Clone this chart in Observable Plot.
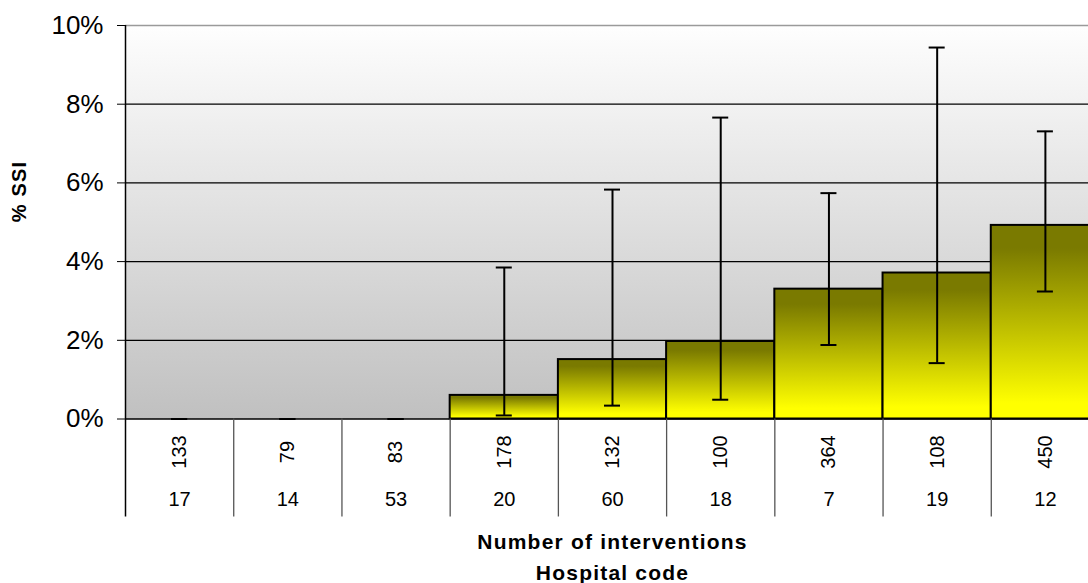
<!DOCTYPE html>
<html>
<head>
<meta charset="utf-8">
<script src="https://cdn.jsdelivr.net/npm/d3@7"></script>
<script src="https://cdn.jsdelivr.net/npm/@observablehq/plot@0.6"></script>
<style>
  html, body { margin: 0; padding: 0; background: white; overflow: hidden; }
  #chart { width: 1102px; }
  #chart svg { display: block; overflow: hidden; max-width: none !important; width: 1102px !important; height: 583px !important; }
</style>
</head>
<body>
<div id="chart"></div>
<script>
// Data
const interventions = [133, 79, 83, 178, 132, 100, 364, 108, 450];
const hospitalCodes = [17, 14, 53, 20, 60, 18, 7, 19, 12];
const ssiPct = [0, 0, 0, 0.60, 1.51, 1.97, 3.30, 3.71, 4.92];
const ciLow = [0, 0, 0, 0.09, 0.34, 0.49, 1.88, 1.42, 3.24];
const ciHigh = [0, 0, 0, 3.85, 5.83, 7.66, 5.74, 9.44, 7.31];
const yTicks = [0, 2, 4, 6, 8, 10];
const gridValues = [2, 4, 6, 8];
const yTitle = "% SSI";
const xTitles = ["Number of interventions", "Hospital code"];

const rows = interventions.map((n, i) => ({
  i, n, code: hospitalCodes[i], v: ssiPct[i], lo: ciLow[i], hi: ciHigh[i]
}));
const dividers = d3.range(0, rows.length + 1);

const tableBottom = -2.49; // y-scale units below zero where the table ends
const capHalf = 0.074;     // half-width of error caps in x units

const font = "'Liberation Sans', Arial, sans-serif";

const chart = Plot.plot({
  width: 1102,
  height: 583,
  marginLeft: 125,
  marginRight: 3,
  marginTop: 25,
  marginBottom: 164.5,
  style: { fontFamily: font, fontSize: "26px", background: "white", color: "black" },
  x: { domain: [0, rows.length], axis: null },
  y: {
    domain: [0, 10],
    ticks: yTicks,
    tickFormat: d => d + "%",
    tickSize: 8,
    tickPadding: 14,
    label: null
  },
  marks: [
    Plot.frame({ fill: "url(#bgGrad)", stroke: "none" }),
    Plot.ruleY(gridValues, { stroke: "black", strokeWidth: 1.2 }),
    Plot.ruleY([10], { stroke: "#9a9a9a", strokeWidth: 1.5 }),
    Plot.rect(rows.filter(d => d.v > 0), {
      x1: d => d.i, x2: d => d.i + 1, y1: 0, y2: d => d.v,
      fill: "url(#barGrad)", stroke: "black", strokeWidth: 2
    }),
    Plot.ruleY([0], { stroke: "black", strokeWidth: 1.5 }),
    // error bars
    Plot.ruleX(rows.filter(d => d.hi > d.lo), {
      x: d => d.i + 0.5, y1: "lo", y2: "hi", stroke: "black", strokeWidth: 2
    }),
    Plot.ruleY(rows, {
      y: "hi", x1: d => d.i + 0.5 - capHalf, x2: d => d.i + 0.5 + capHalf,
      stroke: "black", strokeWidth: 2
    }),
    Plot.ruleY(rows, {
      y: "lo", x1: d => d.i + 0.5 - capHalf, x2: d => d.i + 0.5 + capHalf,
      stroke: "black", strokeWidth: 2
    }),
    // left axis line
    Plot.ruleX([0], { y1: tableBottom, y2: 10, stroke: "black", strokeWidth: 1.5 }),
    // table dividers
    Plot.ruleX(dividers.slice(1), { y1: 0, y2: tableBottom, stroke: "#555", strokeWidth: 1.3 }),
    // table labels
    Plot.text(rows, {
      x: d => d.i + 0.5, y: 0, text: d => String(d.n),
      rotate: -90, dy: 33, fontSize: 20, fill: "black"
    }),
    Plot.text(rows, {
      x: d => d.i + 0.5, y: 0, text: d => String(d.code),
      dy: 81, fontSize: 20, fill: "black"
    }),
    // axis titles
    Plot.text([yTitle], {
      frameAnchor: "left", dx: -106, rotate: -90, fontSize: 20,
      fontWeight: "bold", fill: "black"
    }),
    Plot.text([xTitles[0]], {
      frameAnchor: "bottom", dy: 130, fontSize: 21, fontWeight: "bold", fill: "black"
    }),
    Plot.text([xTitles[1]], {
      frameAnchor: "bottom", dy: 161, fontSize: 21, fontWeight: "bold", fill: "black"
    })
  ]
});

// letter spacing on the titles (Excel-like spacing)
d3.select(chart).selectAll("text")
  .filter(function () { return [yTitle, ...xTitles].includes(this.textContent); })
  .style("letter-spacing", "1.2px");

// gradient definitions
const defs = d3.select(chart).insert("defs", ":first-child");
const bg = defs.append("linearGradient").attr("id", "bgGrad")
  .attr("x1", 0).attr("y1", 0).attr("x2", 0).attr("y2", 1);
bg.append("stop").attr("offset", "0%").attr("stop-color", "#fefefe");
bg.append("stop").attr("offset", "100%").attr("stop-color", "#c0c0c0");
const bar = defs.append("linearGradient").attr("id", "barGrad")
  .attr("x1", 0).attr("y1", 0).attr("x2", 0).attr("y2", 1);
bar.append("stop").attr("offset", "0%").attr("stop-color", "#7a7a00");
bar.append("stop").attr("offset", "12%").attr("stop-color", "#7a7a00");
bar.append("stop").attr("offset", "92%").attr("stop-color", "#ffff00");
bar.append("stop").attr("offset", "100%").attr("stop-color", "#ffff00");

document.getElementById("chart").appendChild(chart);
</script>
</body>
</html>
